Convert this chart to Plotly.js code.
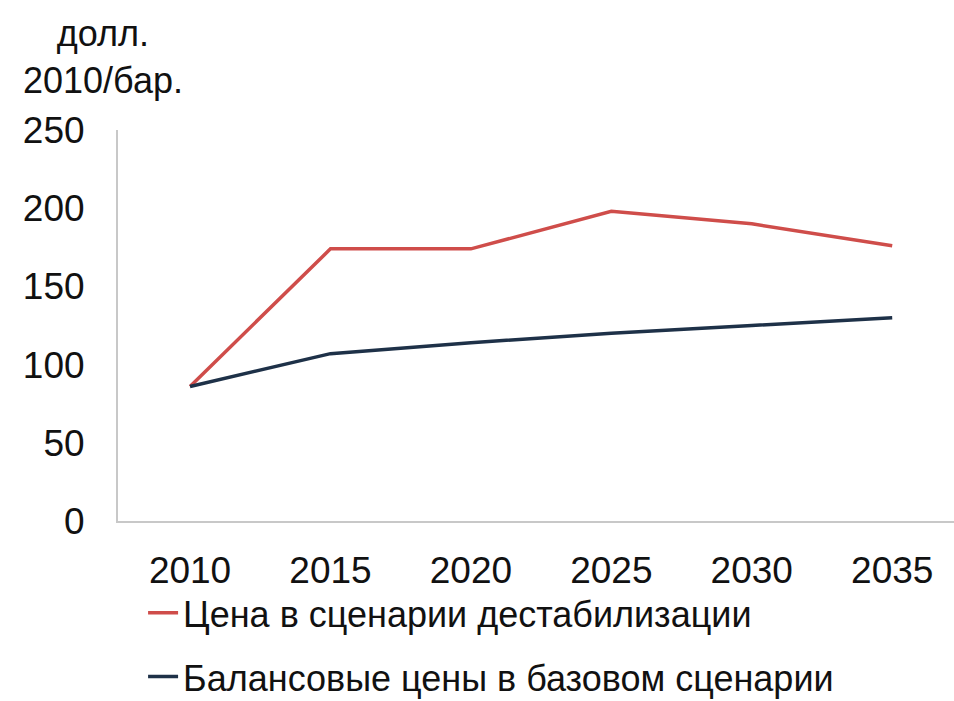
<!DOCTYPE html>
<html>
<head>
<meta charset="utf-8">
<script src="https://cdn.plot.ly/plotly-3.0.1.min.js"></script>
<style>html,body{margin:0;padding:0;background:#fff;}#chart{width:954px;height:701px;}</style>
</head>
<body>
<div id="chart"></div>
<script>
const years = ['2010', '2015', '2020', '2025', '2030', '2035'];
const destabilization = [86, 174, 174, 198, 190, 176];
const baseBalance = [86, 107, 114, 120, 125, 130];
const seriesNames = ['Цена в сценарии дестабилизации', 'Балансовые цены в базовом сценарии'];
const yTicks = [0, 50, 100, 150, 200, 250];
const yUnit = 'долл.<br>2010/бар.';

const FONT = '"Liberation Sans", Arial, sans-serif';

const traces = [
  {x: years, y: destabilization, name: seriesNames[0], type: 'scatter', mode: 'lines',
   line: {color: '#cf4d4a', width: 3.5}, legendgroup: 'a'},
  {x: years, y: baseBalance, name: seriesNames[1], type: 'scatter', mode: 'lines',
   line: {color: '#1e3148', width: 3.5}, legendgroup: 'b'}
];

const layout = {
  width: 954, height: 701,
  margin: {l: 118, r: 0, t: 130, b: 180, autoexpand: false},
  paper_bgcolor: '#fff', plot_bgcolor: '#fff',
  font: {family: FONT, color: '#111', size: 37},
  showlegend: true,
  legend: {x: 0.03, xanchor: 'left', y: -0.158, yanchor: 'top', orientation: 'v',
           font: {family: FONT, size: 36, color: '#111'}, tracegroupgap: 14,
           bgcolor: 'rgba(0,0,0,0)'},
  xaxis: {type: 'category', range: [-0.513, 5.44], showgrid: false, zeroline: false,
          showline: true, linecolor: '#c8c8c8', linewidth: 2, ticks: '',
          ticklabelstandoff: 16, tickfont: {family: FONT, size: 37, color: '#111'}},
  yaxis: {range: [0, 250], tickvals: yTicks, showgrid: false, zeroline: false,
          showline: true, linecolor: '#c8c8c8', linewidth: 2, ticks: '',
          ticklabelstandoff: 24, tickfont: {family: FONT, size: 37, color: '#111'}},
  annotations: [{text: yUnit, xref: 'paper', yref: 'paper', x: -0.018, y: 1.07,
                 xanchor: 'center', yanchor: 'bottom', align: 'center', showarrow: false,
                 font: {family: FONT, size: 36, color: '#111'}}]
};

Plotly.newPlot('chart', traces, layout, {displayModeBar: false, staticPlot: true});
</script>
</body>
</html>
